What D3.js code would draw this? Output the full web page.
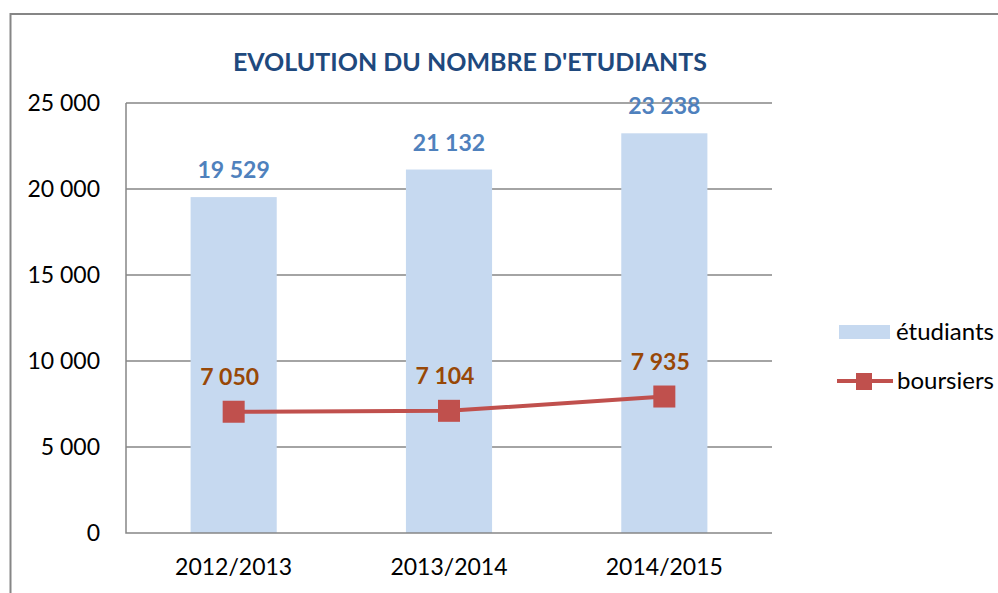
<!DOCTYPE html>
<html>
<head>
<meta charset="utf-8">
<script src="https://cdn.jsdelivr.net/npm/d3@7"></script>
<style>
body { margin: 0; background: #fff; }
text { font-family: Lato, "Open Sans", sans-serif; }
</style>
</head>
<body>
<script>
var categories = ["2012/2013", "2013/2014", "2014/2015"];
var etudiants = [19529, 21132, 23238];
var boursiers = [7050, 7104, 7935];
var yTicks = [0, 5000, 10000, 15000, 20000, 25000];

var w = 998;
var h = 593;
var plot = {left: 126, right: 772, top: 103, bottom: 533};

var fr = d3.formatLocale({decimal: ",", thousands: " ", grouping: [3], currency: ["", " €"]});
var fmt = fr.format(",d");

var svg = d3.select("body").append("svg").attr("width", w).attr("height", h);

// outer chart border (only top & left visible)
svg.append("path")
    .attr("d", "M10.5," + h + "V14H" + w)
    .attr("fill", "none")
    .attr("stroke", "#868686")
    .attr("stroke-width", 2);

svg.append("text")
    .attr("x", 470).attr("y", 71)
    .attr("text-anchor", "middle")
    .attr("font-size", "25px").attr("font-weight", "bold")
    .attr("fill", "#1f497d")
    .text("EVOLUTION DU NOMBRE D'ETUDIANTS");

var x = d3.scaleBand().domain(categories).range([plot.left, plot.right]);
var y = d3.scaleLinear().domain([0, 25000]).range([plot.bottom, plot.top]);

// gridlines
svg.selectAll(".grid")
    .data(yTicks.slice(1))
    .enter().append("line")
    .attr("x1", plot.left).attr("x2", plot.right)
    .attr("y1", function (d) { return y(d); })
    .attr("y2", function (d) { return y(d); })
    .attr("stroke", "#868686").attr("stroke-width", 1.5);

// y tick labels
svg.selectAll(".ylab")
    .data(yTicks)
    .enter().append("text")
    .attr("x", 100)
    .attr("y", function (d) { return y(d); })
    .attr("dy", "0.35em")
    .attr("text-anchor", "end")
    .attr("font-size", "23px")
    .attr("fill", "#000")
    .text(function (d) { return fmt(d); });

var barW = x.bandwidth() * 0.4;

svg.selectAll(".bar")
    .data(etudiants)
    .enter().append("rect")
    .attr("x", function (d, i) { return x(categories[i]) + (x.bandwidth() - barW) / 2; })
    .attr("y", function (d) { return y(d); })
    .attr("width", barW)
    .attr("height", function (d) { return plot.bottom - y(d); })
    .attr("fill", "#c6d9f0");

// axes lines
svg.append("path")
    .attr("d", "M" + plot.left + "," + plot.top + "V" + plot.bottom + "H" + plot.right)
    .attr("fill", "none")
    .attr("stroke", "#868686").attr("stroke-width", 1.5);

// x labels
svg.selectAll(".xlab")
    .data(categories)
    .enter().append("text")
    .attr("x", function (d) { return x(d) + x.bandwidth() / 2; })
    .attr("y", 575)
    .attr("text-anchor", "middle")
    .attr("font-size", "23px")
    .attr("fill", "#000")
    .text(function (d) { return d; });

// bar labels
svg.selectAll(".blab")
    .data(etudiants)
    .enter().append("text")
    .attr("x", function (d, i) { return x(categories[i]) + x.bandwidth() / 2; })
    .attr("y", function (d) { return y(d) - 19; })
    .attr("text-anchor", "middle")
    .attr("font-size", "23px").attr("font-weight", "bold")
    .attr("fill", "#4f81bd")
    .text(function (d) { return fmt(d); });

// line
var line = d3.line()
    .x(function (d, i) { return x(categories[i]) + x.bandwidth() / 2; })
    .y(function (d) { return y(d); });

svg.append("path")
    .datum(boursiers)
    .attr("d", line)
    .attr("fill", "none")
    .attr("stroke", "#c0504d")
    .attr("stroke-width", 4);

svg.selectAll(".mark")
    .data(boursiers)
    .enter().append("rect")
    .attr("x", function (d, i) { return x(categories[i]) + x.bandwidth() / 2 - 11; })
    .attr("y", function (d) { return y(d) - 11; })
    .attr("width", 22).attr("height", 22)
    .attr("fill", "#c0504d");

svg.selectAll(".llab")
    .data(boursiers)
    .enter().append("text")
    .attr("x", function (d, i) { return x(categories[i]) + x.bandwidth() / 2 - 4; })
    .attr("y", function (d) { return y(d) - 27; })
    .attr("text-anchor", "middle")
    .attr("font-size", "23px").attr("font-weight", "bold")
    .attr("fill", "#984807")
    .text(function (d) { return fmt(d); });

// legend
var lg = svg.append("g");
lg.append("rect")
    .attr("x", 839).attr("y", 325).attr("width", 51).attr("height", 14)
    .attr("fill", "#c6d9f0");
lg.append("text")
    .attr("x", 896).attr("y", 332).attr("dy", "0.35em")
    .attr("font-size", "24px").attr("fill", "#000")
    .text("étudiants");
lg.append("line")
    .attr("x1", 837).attr("x2", 893).attr("y1", 381).attr("y2", 381)
    .attr("stroke", "#c0504d").attr("stroke-width", 4);
lg.append("rect")
    .attr("x", 856).attr("y", 373).attr("width", 16).attr("height", 17)
    .attr("fill", "#c0504d");
lg.append("text")
    .attr("x", 897).attr("y", 381).attr("dy", "0.35em")
    .attr("font-size", "24px").attr("fill", "#000")
    .text("boursiers");
</script>
</body>
</html>
